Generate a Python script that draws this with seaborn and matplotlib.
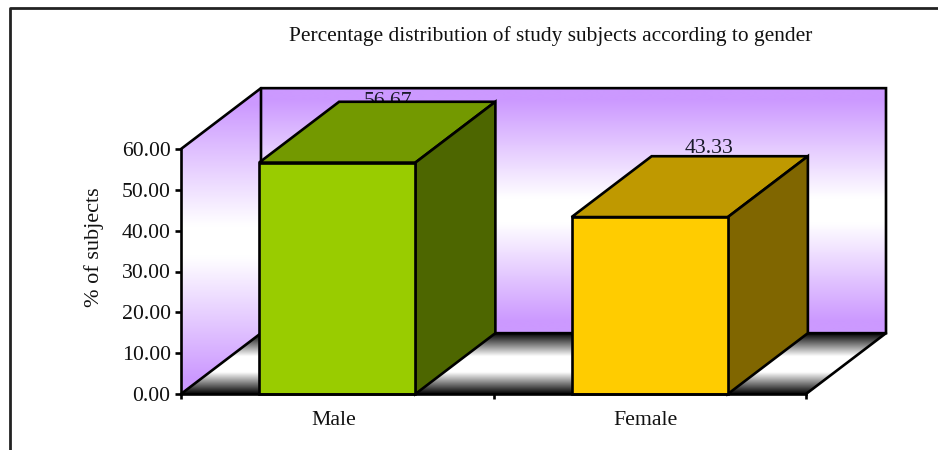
import numpy as np
import pandas as pd
import seaborn as sns
import matplotlib
matplotlib.use("Agg")
import matplotlib.pyplot as plt
from matplotlib.colors import LinearSegmentedColormap
from matplotlib.lines import Line2D
from matplotlib.patches import Polygon
from matplotlib.transforms import ScaledTranslation

categories = ["Male", "Female"]
percentages = [56.67, 43.33]
y_ticks = [0, 10, 20, 30, 40, 50, 60]
title = "Percentage distribution of study subjects according to gender"
y_label = "% of subjects"

front_colors = ["#99CC00", "#FFCC00"]
top_colors = ["#739900", "#BF9900"]
side_colors = ["#4D6600", "#806600"]

# how far the 3D box goes back, in data units
DEPTH_X = 0.256
DEPTH_Y = 14.9
LW = 1.9
FONT = 15.7

sns.set_theme(style="white")
plt.rcParams["font.family"] = ["Liberation Serif", "DejaVu Serif"]

fig = plt.figure(figsize=(9.38, 4.5), dpi=100)
ax = fig.add_axes([181 / 938, 56 / 450, 625 / 938, 245 / 450])

df = pd.DataFrame({"gender": categories, "pct": percentages})
sns.barplot(data=df, x="gender", y="pct", hue="gender", palette=front_colors, saturation=1,
            width=0.5, dodge=False, legend=False, edgecolor="black", linewidth=LW, ax=ax)

x0, x1 = -0.5, 1.5
y_top = y_ticks[-1]


def gradient_face(corners, low, high, colors, stops):
    # vertical gradient clipped to a parallelogram
    cmap = LinearSegmentedColormap.from_list("face", list(zip(stops, colors)), N=1024)
    grad = np.linspace(0, 1, 1024).reshape(-1, 1)
    xs = [c[0] for c in corners]
    im = ax.imshow(grad, cmap=cmap, aspect="auto", origin="lower", zorder=0.5,
                   extent=(min(xs), max(xs), low, high))
    im.set_clip_path(Polygon(corners, transform=ax.transData))
    im.set_clip_box(fig.bbox)


purple = ["#CC99FF", "#CC99FF", "#FFFFFF", "#FFFFFF", "#CC99FF", "#CC99FF"]
purple_stops = [0, 0.05, 0.45, 0.55, 0.95, 1]
gradient_face([(x0 + DEPTH_X, DEPTH_Y), (x1 + DEPTH_X, DEPTH_Y), (x1 + DEPTH_X, y_top + DEPTH_Y), (x0 + DEPTH_X, y_top + DEPTH_Y)],
              DEPTH_Y, y_top + DEPTH_Y, purple, purple_stops)
gradient_face([(x0, 0), (x0 + DEPTH_X, DEPTH_Y), (x0 + DEPTH_X, y_top + DEPTH_Y), (x0, y_top)],
              0, y_top + DEPTH_Y, purple, purple_stops)
gradient_face([(x0, 0), (x1, 0), (x1 + DEPTH_X, DEPTH_Y), (x0 + DEPTH_X, DEPTH_Y)],
              0, DEPTH_Y, ["#000000", "#FFFFFF", "#FFFFFF", "#000000"], [0, 0.36, 0.62, 1])

# wall and floor outlines
outlines = [
    [(x0, y_top), (x0 + DEPTH_X, y_top + DEPTH_Y), (x1 + DEPTH_X, y_top + DEPTH_Y), (x1 + DEPTH_X, DEPTH_Y), (x0 + DEPTH_X, DEPTH_Y)],
    [(x0 + DEPTH_X, y_top + DEPTH_Y), (x0 + DEPTH_X, DEPTH_Y), (x0, 0)],
    [(x1, 0), (x1 + DEPTH_X, DEPTH_Y)],
]
for line in outlines:
    ax.plot(*zip(*line), color="black", lw=LW, clip_on=False, zorder=1, solid_joinstyle="miter")

# the box faces come from the bars seaborn drew
label_shift = [0.163, 0.189]
label_y = [DEPTH_Y - 1.0, DEPTH_Y + 0.75]
for i, bar in enumerate(ax.patches):
    bar.set_zorder(4)
    bar.set_clip_on(False)
    left, width, height = bar.get_x(), bar.get_width(), bar.get_height()
    right = left + width
    top = [(left, height), (right, height), (right + DEPTH_X, height + DEPTH_Y), (left + DEPTH_X, height + DEPTH_Y)]
    side = [(right, 0), (right + DEPTH_X, DEPTH_Y), (right + DEPTH_X, height + DEPTH_Y), (right, height)]
    ax.add_patch(Polygon(top, facecolor=top_colors[i], edgecolor="black", lw=LW, clip_on=False, zorder=3, joinstyle="miter"))
    ax.add_patch(Polygon(side, facecolor=side_colors[i], edgecolor="black", lw=LW, clip_on=False, zorder=3, joinstyle="miter"))
    # label sits partly behind the top face, like the original
    ax.text(i + label_shift[i], height + label_y[i], f"{percentages[i]:.2f}", ha="center", va="baseline",
            fontsize=FONT, color="#1a1a2a", clip_on=False, zorder=2)

ax.set_xlim(x0, x1)
ax.set_ylim(0, y_top)
ax.set_xlabel("")
ax.set_ylabel(y_label, fontsize=16, color="#111111")
ax.yaxis.set_label_coords(-0.124, 0.6)
ax.set_yticks(y_ticks, [f"{t:.2f}" for t in y_ticks], fontsize=FONT, color="#111111")
ax.set_xticks([x0, 0.5, x1], ["", "", ""])
ax.set_xticks([0, 1], categories, minor=True, fontsize=FONT, color="#111111")
ax.tick_params(axis="y", left=True, length=4.5, width=LW, pad=3, color="black")
ax.tick_params(axis="x", which="major", bottom=True, length=3.5, width=LW, color="black")
ax.tick_params(axis="x", which="minor", bottom=False, length=0, pad=12)
shift = ScaledTranslation(-4 / 100, 0, fig.dpi_scale_trans)
for tick_label in ax.get_xticklabels(minor=True):
    tick_label.set_transform(tick_label.get_transform() + shift)

sns.despine(ax=ax)
for name in ["left", "bottom"]:
    ax.spines[name].set_linewidth(LW)
    ax.spines[name].set_color("black")
    ax.spines[name].set_zorder(5)

fig.suptitle(title, x=550.5 / 938, y=1 - 36.5 / 450, va="center", fontsize=15.4, color="#111111")

# page frame round the chart
fig.add_artist(Line2D([10 / 938, 10 / 938, 1], [0, 1 - 8 / 450, 1 - 8 / 450], color="#222222", lw=2))

fig.savefig("out.png", dpi=100)
